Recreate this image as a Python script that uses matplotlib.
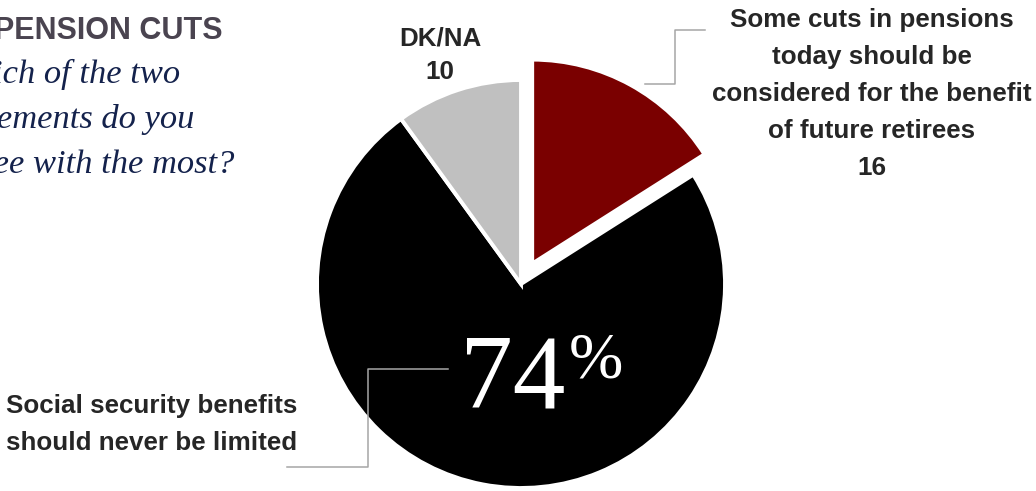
import matplotlib.pyplot as plt

# survey shares, in percent
answers = ['Some cuts in pensions\ntoday should be\nconsidered for the benefit\nof future retirees',
           'Social security benefits\nshould never be limited',
           'DK/NA']
shares = [16, 74, 10]
colors = ['#7a0000', '#000000', '#c0c0c0']

title = 'PENSION CUTS'
question = 'Which of the two\nstatements do you\nagree with the most?'

W, H = 1036, 491
R = 204


def py(y):
    # pixel rows are counted from the top
    return H - y


fig = plt.figure(figsize=(W / 100, H / 100), dpi=100)
ax = fig.add_axes([0, 0, 1, 1])

# explode is in data units here, so pull the first slice out by ~11% of the radius
ax.pie(shares, colors=colors, explode=[0.114 * R, 0, 0], startangle=90, counterclock=False,
       center=(521, py(284)), radius=R,
       wedgeprops=dict(edgecolor='white', linewidth=2.8))
ax.set_xlim(0, W)
ax.set_ylim(0, H)
ax.set_aspect('equal')
ax.axis('off')

dark = '#262626'
lab = dict(family='Liberation Sans', fontweight='bold', fontsize=18.7, color=dark)

# header
ax.text(-6, py(39), title, family='Liberation Sans', fontweight='bold',
        fontsize=22, color='#4a4450', ha='left', va='baseline')
ax.text(-53, py(173), question, family='Liberation Serif', style='italic',
        fontsize=24.8, color='#14224c', ha='left', va='baseline', linespacing=1.6)

# slice labels (va='baseline' sits on the last line)
ax.text(872, py(175), f'{answers[0]}\n{shares[0]}', ha='center', va='baseline',
        linespacing=1.69, **lab)
ax.text(440, py(79), f'{answers[2]}\n{shares[2]}', ha='center', va='baseline',
        linespacing=1.48, **lab)
ax.text(297, py(450), answers[1], ha='right', va='baseline', linespacing=1.69, **lab)

ax.text(460, py(407), f'{shares[1]}', family='Liberation Serif', fontsize=76,
        color='white', ha='left', va='baseline')
ax.text(569, py(377), '%', family='Liberation Serif', fontsize=47,
        color='white', ha='left', va='baseline')

# leader lines
line = dict(color='#a6a6a6', linewidth=1.1)
ax.plot([645, 675, 675, 705], [py(84), py(84), py(30), py(30)], **line)
ax.plot([448, 368, 368, 287], [py(369), py(369), py(467), py(467)], **line)

fig.savefig('out.png', dpi=100)
